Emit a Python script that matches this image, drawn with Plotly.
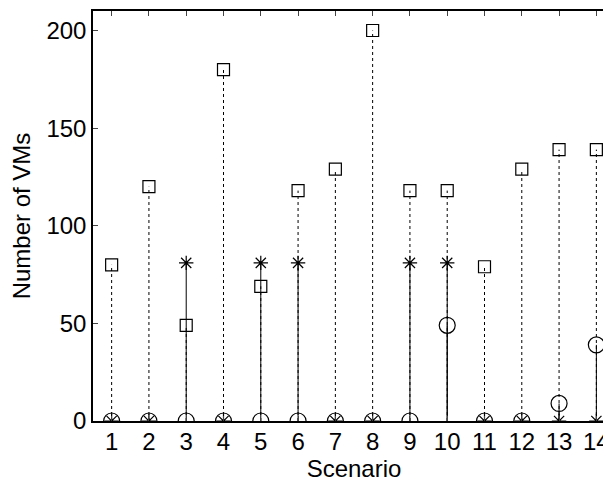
import plotly.graph_objects as go

scenarios = list(range(1, 15))
squares = [80, 120, 49, 180, 69, 118, 129, 200, 118, 118, 79, 129, 139, 139]
stars = [0, 0, 81, 0, 81, 81, 0, 0, 81, 81, 0, 0, 0, 0]
circles = [0, 0, 0, 0, 0, 0, 0, 0, 0, 49, 0, 0, 9, 39]
x_ticks = list(range(1, 15))
y_ticks = [0, 50, 100, 150, 200]


def stem_xy(xs, ys):
    sx, sy = [], []
    for x, y in zip(xs, ys):
        sx += [x, x, None]
        sy += [0, y, None]
    return sx, sy


fig = go.Figure()
series = [
    (squares, "square-open", 12, "dot"),
    (stars, "asterisk-open", 12, "solid"),
    (circles, "circle-open", 16, "solid"),
]
for ys, sym, size, dash in series:
    sx, sy = stem_xy(scenarios, ys)
    fig.add_trace(go.Scatter(x=sx, y=sy, mode="lines",
                             line=dict(color="black", width=1, dash=dash),
                             hoverinfo="skip", showlegend=False))
for ys, sym, size, dash in series:
    fig.add_trace(go.Scatter(x=scenarios, y=ys, mode="markers",
                             marker=dict(symbol=sym, size=size, color="black",
                                         line=dict(color="black", width=1.2)),
                             showlegend=False))

font = dict(family="Liberation Sans, Arial, sans-serif", size=24, color="black")
fig.update_layout(
    width=611, height=483,
    margin=dict(l=85, r=4, t=3, b=70, autoexpand=False),
    paper_bgcolor="white", plot_bgcolor="white",
    font=font,
    xaxis=dict(range=[0.5, 14.5], tickvals=x_ticks, ticks="inside", ticklen=5,
               showline=True, linecolor="black", linewidth=1.5, mirror="ticks",
               showgrid=False, zeroline=False, tickfont=font, automargin=False,
               ticklabelstandoff=-2,
               title=dict(text="Scenario", font=font, standoff=0)),
    yaxis=dict(range=[0, 210], tickvals=y_ticks, ticks="inside", ticklen=5,
               showline=True, linecolor="black", linewidth=1.5,
               showgrid=False, zeroline=False, tickfont=font, automargin=False,
               title=dict(text="Number of VMs", font=font, standoff=10)),
)
fig.write_html("out.html")
